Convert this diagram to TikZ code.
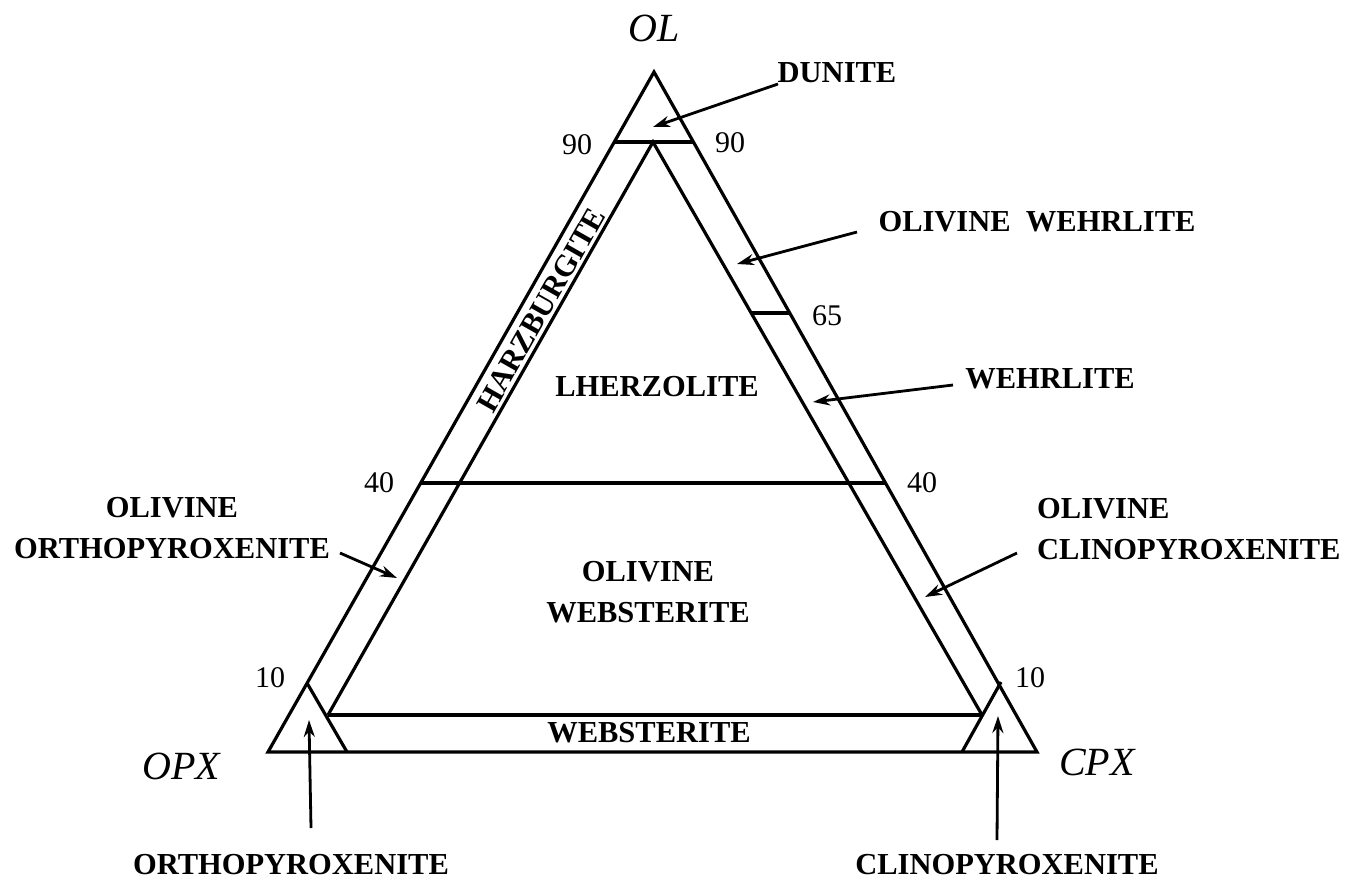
\documentclass[tikz,border=0pt]{standalone}
\usepackage{fontspec}
\setmainfont{Liberation Serif}
\usetikzlibrary{arrows.meta}
\tikzset{
  edge/.style={line width=3.2pt, line join=miter},
  lbl/.style={font=\fontsize{30.5}{36}\selectfont\bfseries, inner sep=0pt},
  num/.style={font=\fontsize{30}{36}\selectfont, inner sep=0pt},
  apexlbl/.style={font=\fontsize{40}{46}\selectfont\itshape, inner sep=0pt},
  pointer/.style={line width=2.8pt, -{Stealth[length=17pt,width=11pt]}}
}
\begin{document}
\begin{tikzpicture}[x=1pt,y=-1pt]
\useasboundingbox (0,0) rectangle (1366,881);
% vertices
\coordinate (T) at (654,72);
\coordinate (BL) at (268,752);
\coordinate (BR) at (1037,752);
\coordinate (I) at (653,142);
\coordinate (IL) at (328,715);
\coordinate (IR) at (982,715);
\coordinate (D1) at (614.3,142);
\coordinate (D2) at (693.4,142);
\coordinate (F1) at (421,483);
\coordinate (F2) at (885,483);
\coordinate (S1) at (751.4,313);
\coordinate (S2) at (789.7,313);
\coordinate (CL1) at (307,683);
\coordinate (CL2) at (347,752);
\coordinate (CR1) at (1001,682);
\coordinate (CR2) at (962,752);
% outer triangle
\draw[edge] (T) -- (BL) -- (BR) -- cycle;
% inner triangle
\draw[edge] (IL) -- (I) -- (IR);
\draw[edge] (IL) -- (IR);
\draw[edge] (D1) -- (D2);
\draw[edge] (F1) -- (F2);
\draw[edge] (S1) -- (S2);
\draw[edge] (CL1) -- (CL2);
\draw[edge] (CR1) -- (CR2);
% apex labels
\node[apexlbl] (ol) at (654,28) {OL};
\node[apexlbl] (opx) at (181,766) {OPX};
\node[apexlbl] (cpx) at (1097,762) {CPX};
% numbers
\node[num] (n90l) at (577,145) {90};
\node[num] (n90r) at (730,143) {90};
\node[num] (n65) at (827,316) {65};
\node[num] (n40l) at (379,483) {40};
\node[num] (n40r) at (922,483) {40};
\node[num] (n10l) at (270,678) {10};
\node[num] (n10r) at (1030,678) {10};
% field labels
\node[lbl] (dun) at (837,73) {DUNITE};
\node[lbl] (owe) at (1037,222) {OLIVINE\ \ WEHRLITE};
\node[lbl] (weh) at (1050,379) {WEHRLITE};
\node[lbl] (lhz) at (657,387) {LHERZOLITE};
\node[lbl, rotate=60.4] (hz) at (541,310) {HARZBURGITE};
\node[lbl, align=center] (oop) at (172,528) {OLIVINE\\[5pt]ORTHOPYROXENITE};
\node[lbl, align=center] (owb) at (648,592) {OLIVINE\\[5pt]WEBSTERITE};
\node[lbl, align=left, anchor=west] (ocp) at (1037,529) {OLIVINE\\[5pt]CLINOPYROXENITE};
\node[lbl] (web) at (649,733) {WEBSTERITE};
\node[lbl] (opxn) at (291,865) {ORTHOPYROXENITE};
\node[lbl] (cpxn) at (1007,865) {CLINOPYROXENITE};
% arrow ends
\coordinate (aD0) at (778,84);  \coordinate (aD1) at (653,127);
\coordinate (aW0) at (857,232); \coordinate (aW1) at (737,264);
\coordinate (aH0) at (953,385); \coordinate (aH1) at (813,402);
\coordinate (aO0) at (340,553); \coordinate (aO1) at (397,578);
\coordinate (aC0) at (1017,553); \coordinate (aC1) at (925,597);
\coordinate (aP0) at (311,828); \coordinate (aP1) at (309,720);
\coordinate (aQ0) at (997,840); \coordinate (aQ1) at (998,716);
\draw[pointer] (aD0) -- (aD1);
\draw[pointer] (aW0) -- (aW1);
\draw[pointer] (aH0) -- (aH1);
\draw[pointer] (aO0) -- (aO1);
\draw[pointer] (aC0) -- (aC1);
\draw[pointer] (aP0) -- (aP1);
\draw[pointer] (aQ0) -- (aQ1);
\end{tikzpicture}
\end{document}
